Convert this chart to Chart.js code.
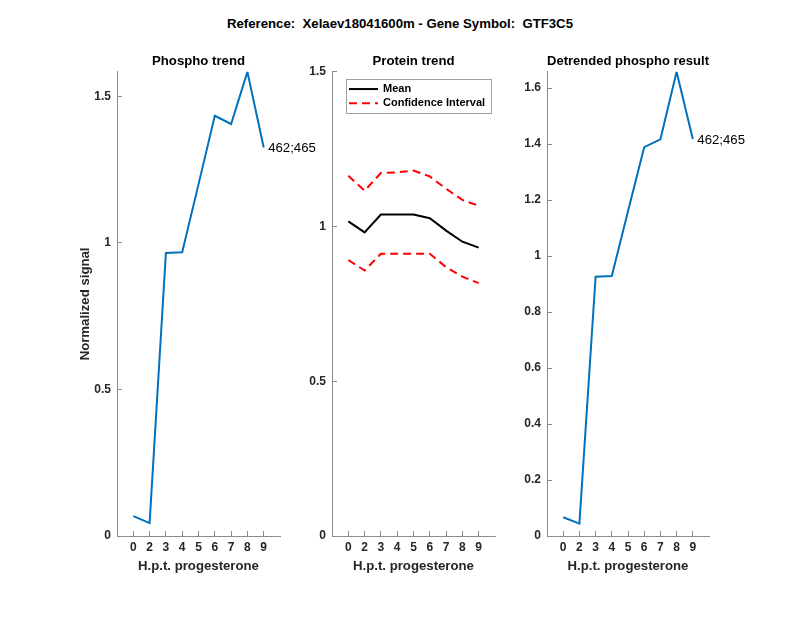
<!DOCTYPE html>
<html>
<head>
<meta charset="utf-8">
<script src="https://cdn.jsdelivr.net/npm/chart.js@4.4.1/dist/chart.umd.min.js"></script>
<style>
    body { margin: 0; background: #fff; }
    #wrap { position: relative; width: 800px; height: 618px; font-family: 'Liberation Sans', Arial, sans-serif; }
    #wrap canvas { position: absolute; left: 0; top: 0; }
    #suptitle { position: absolute; left: 0; top: 16px; width: 800px; line-height: 16px; text-align: center;
                font-weight: bold; font-size: 13.2px; color: #000; white-space: pre; }
</style>
</head>
<body>
<div id="wrap">
    <div id="suptitle"></div>
    <canvas id="phosphoChart" width="800" height="618"></canvas>
    <canvas id="proteinChart" width="800" height="618"></canvas>
    <canvas id="detrendChart" width="800" height="618"></canvas>
</div>
<script>
// values
const figureTitle = 'Reference:  Xelaev18041600m - Gene Symbol:  GTF3C5';
const siteLabel = '462;465';
const hours = ['0', '2', '3', '4', '5', '6', '7', '8', '9'];
const phospho = [0.068, 0.044, 0.966, 0.968, 1.200, 1.434, 1.406, 1.584, 1.326];
const proteinMean = [1.017, 0.981, 1.039, 1.039, 1.039, 1.027, 0.987, 0.951, 0.932];
const proteinUpper = [1.164, 1.116, 1.173, 1.175, 1.181, 1.162, 1.122, 1.086, 1.067];
const proteinLower = [0.892, 0.858, 0.912, 0.912, 0.912, 0.912, 0.869, 0.838, 0.817];
const detrended = [0.067, 0.044, 0.926, 0.929, 1.160, 1.389, 1.417, 1.658, 1.418];

document.getElementById('suptitle').textContent = figureTitle;

const blue = '#0072BD';
const red = '#FF0000';
const axisGray = '#8c8c8c';
const labelGray = '#262626';
const tickFont = { family: 'Liberation Sans', size: 12, weight: 'bold' };
const titleFont = { family: 'Liberation Sans', size: 13.2, weight: 'bold' };

const toPoints = values => values.map((v, i) => ({ x: i, y: v }));

// text next to the last point of the first series
const siteTag = {
    id: 'siteTag',
    afterDatasetsDraw(chart, args, opts) {
        if (!opts.text) return;
        const pts = chart.getDatasetMeta(0).data;
        const last = pts[pts.length - 1];
        const ctx = chart.ctx;
        ctx.save();
        ctx.font = '13.2px "Liberation Sans"';
        ctx.fillStyle = '#000';
        ctx.textBaseline = 'middle';
        ctx.fillText(opts.text, last.x + 4.5, last.y + 1);
        ctx.restore();
    }
};

// boxed legend in the top-left corner of the plot, matlab style
const boxLegend = {
    id: 'boxLegend',
    afterDraw(chart, args, opts) {
        if (!opts.show) return;
        const items = chart.data.datasets.filter(d => d.label);
        const { ctx, chartArea } = chart;
        const x = chartArea.left + 13.5;
        const y = chartArea.top + 7.5;
        const rowH = 14.3;
        ctx.save();
        ctx.font = 'bold 11px "Liberation Sans"';
        const textW = Math.max(...items.map(d => ctx.measureText(d.label).width));
        const w = 37.5 + textW + 5;
        const h = items.length * rowH + 5;
        ctx.fillStyle = '#fff';
        ctx.fillRect(x, y, w, h);
        ctx.strokeStyle = '#a0a0a0';
        ctx.lineWidth = 1;
        ctx.strokeRect(Math.round(x) + 0.5, Math.round(y) + 0.5, Math.round(w), Math.round(h));
        items.forEach((d, i) => {
            const cy = y + 9.7 + i * rowH;
            ctx.strokeStyle = d.borderColor;
            ctx.lineWidth = d.borderWidth;
            ctx.setLineDash(d.borderDash || []);
            ctx.beginPath();
            ctx.moveTo(x + 3.5, cy);
            ctx.lineTo(x + 32.5, cy);
            ctx.stroke();
            ctx.setLineDash([]);
            ctx.fillStyle = '#000';
            ctx.textBaseline = 'middle';
            ctx.fillText(d.label, x + 37.5, cy);
        });
        ctx.restore();
    }
};

const makePanel = (canvasId, cfg) => new Chart(document.getElementById(canvasId), {
    type: 'line',
    data: { datasets: cfg.datasets },
    plugins: [siteTag, boxLegend],
    options: {
        responsive: false,
        animation: false,
        layout: { padding: { left: cfg.left - 40, right: 800 - cfg.right, top: 53, bottom: 44 } },
        elements: { point: { radius: 0 }, line: { tension: 0 } },
        plugins: {
            legend: { display: false },
            tooltip: { enabled: false },
            title: {
                display: true, text: cfg.title, font: titleFont, color: '#000',
                fullSize: false, padding: { top: 0, bottom: 3 }
            },
            siteTag: { text: cfg.tag },
            boxLegend: { show: !!cfg.legend }
        },
        scales: {
            x: {
                type: 'linear',
                min: -1,
                max: hours.length,
                afterBuildTicks: s => { s.ticks = s.ticks.filter(t => t.value >= 0 && t.value < hours.length); },
                afterFit: s => { s.height = 38; },
                ticks: {
                    stepSize: 1, autoSkip: false, maxRotation: 0,
                    callback: v => hours[v],
                    font: tickFont, color: labelGray, padding: 9
                },
                grid: { drawOnChartArea: false, tickLength: -5, color: axisGray },
                border: { color: axisGray },
                title: { display: true, text: 'H.p.t. progesterone', font: titleFont, color: labelGray, padding: 0 }
            },
            y: {
                min: 0,
                max: cfg.yMax,
                afterFit: s => { s.width = 40; },
                ticks: {
                    stepSize: cfg.yStep, includeBounds: false,
                    callback: v => String(Math.round(v * 10) / 10),
                    font: tickFont, color: labelGray, padding: 11
                },
                grid: { drawOnChartArea: false, tickLength: -5, color: axisGray },
                border: { color: axisGray },
                title: { display: !!cfg.yTitle, text: cfg.yTitle || '', font: titleFont, color: labelGray, padding: 0 }
            }
        }
    }
});

makePanel('phosphoChart', {
    title: 'Phospho trend',
    left: 117, right: 280,
    yMax: Math.max(...phospho), yStep: 0.5,
    yTitle: 'Normalized signal',
    tag: siteLabel,
    datasets: [{ data: toPoints(phospho), borderColor: blue, borderWidth: 2 }]
});

makePanel('proteinChart', {
    title: 'Protein trend',
    left: 332, right: 495,
    yMax: 1.5, yStep: 0.5,
    legend: true,
    datasets: [
        { label: 'Mean', data: toPoints(proteinMean), borderColor: '#000', borderWidth: 2 },
        { label: 'Confidence Interval', data: toPoints(proteinUpper), borderColor: red, borderWidth: 2, borderDash: [8, 5] },
        { data: toPoints(proteinLower), borderColor: red, borderWidth: 2, borderDash: [8, 5] }
    ]
});

makePanel('detrendChart', {
    title: 'Detrended phospho result',
    left: 547, right: 709,
    yMax: Math.max(...detrended), yStep: 0.2,
    tag: siteLabel,
    datasets: [{ data: toPoints(detrended), borderColor: blue, borderWidth: 2 }]
});
</script>
</body>
</html>
